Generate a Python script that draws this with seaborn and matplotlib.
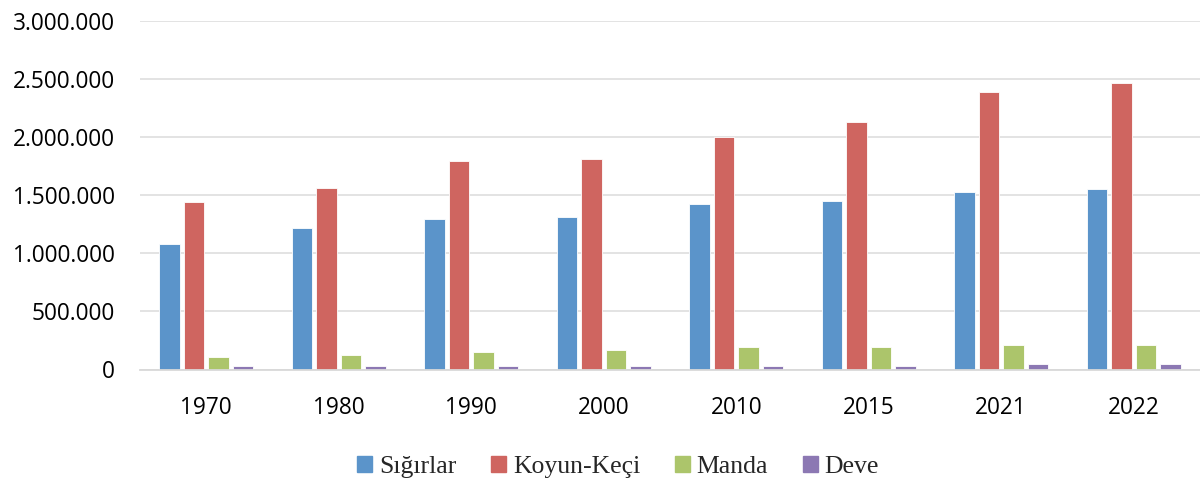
import matplotlib
matplotlib.use("Agg")
import matplotlib.pyplot as plt
import matplotlib.ticker as mticker
import seaborn as sns
import pandas as pd

years = ["1970", "1980", "1990", "2000", "2010", "2015", "2021", "2022"]
series_names = ["Sığırlar", "Koyun-Keçi", "Manda", "Deve"]
sigirlar = [1079000, 1214000, 1297000, 1314000, 1426000, 1449000, 1524000, 1552000]
koyun_keci = [1438000, 1563000, 1796000, 1808000, 1999000, 2134000, 2393000, 2464000]
manda = [107000, 127000, 150000, 168000, 196000, 196000, 211000, 211000]
deve = [30000, 30000, 30000, 33000, 30000, 33000, 45000, 45000]
colors = ["#5B94CA", "#CF6560", "#ACC56B", "#8C78B3"]

rows = []
for name, vals in zip(series_names, [sigirlar, koyun_keci, manda, deve]):
    for y, v in zip(years, vals):
        rows.append({"Yıl": y, "Tür": name, "Değer": v})
df = pd.DataFrame(rows)

sns.set_theme(style="white")
plt.rcParams["font.family"] = ["Open Sans", "DejaVu Sans"]

fig = plt.figure(figsize=(12, 4.84), dpi=100)
ax = fig.add_axes([140 / 1200, 1 - 369.5 / 484, 1060 / 1200, (369.5 - 21) / 484])

sns.barplot(data=df, x="Yıl", y="Değer", hue="Tür", order=years, hue_order=series_names,
            palette=colors, width=0.74, gap=0.18, ax=ax, saturation=1,
            edgecolor="white", linewidth=0.6, legend=True)

ax.set_ylim(0, 3000000)
ax.set_xlim(-0.5, len(years) - 0.5)
ax.yaxis.set_major_locator(mticker.MultipleLocator(500000))
ax.yaxis.set_major_formatter(mticker.FuncFormatter(lambda v, p: f"{int(v):,}".replace(",", ".")))
ax.grid(axis="y", color="#E0E0E0", linewidth=1.3)
ax.set_axisbelow(True)
for s in ["left", "right", "top"]:
    ax.spines[s].set_visible(False)
ax.spines["bottom"].set_color("#D9D9D9")
ax.spines["bottom"].set_linewidth(1.3)
ax.set_xlabel("")
ax.set_ylabel("")
ax.tick_params(axis="y", length=0, pad=18, labelsize=16.3, labelcolor="#000000")
ax.tick_params(axis="x", which="major", length=0, pad=19, labelsize=16.3, labelcolor="#000000")
ax.set_xticks([i - 0.5 for i in range(len(years) + 1)], minor=True)
ax.tick_params(axis="x", which="minor", length=6, width=1.3, color="#D9D9D9", direction="out")
ax.tick_params(axis="y", which="minor", length=0)

ax.get_legend().remove()
handles = [plt.Rectangle((0, 0), 1, 1, color=c) for c in colors]
fig.legend(handles, series_names, loc="center", bbox_to_anchor=(618 / 1200, 1 - 467 / 484),
           ncol=4, frameon=False, handlelength=0.6, handleheight=0.6, handletextpad=0.25,
           columnspacing=1.35, prop={"family": "Liberation Serif", "size": 18.5})

fig.savefig("out.png", dpi=100)
